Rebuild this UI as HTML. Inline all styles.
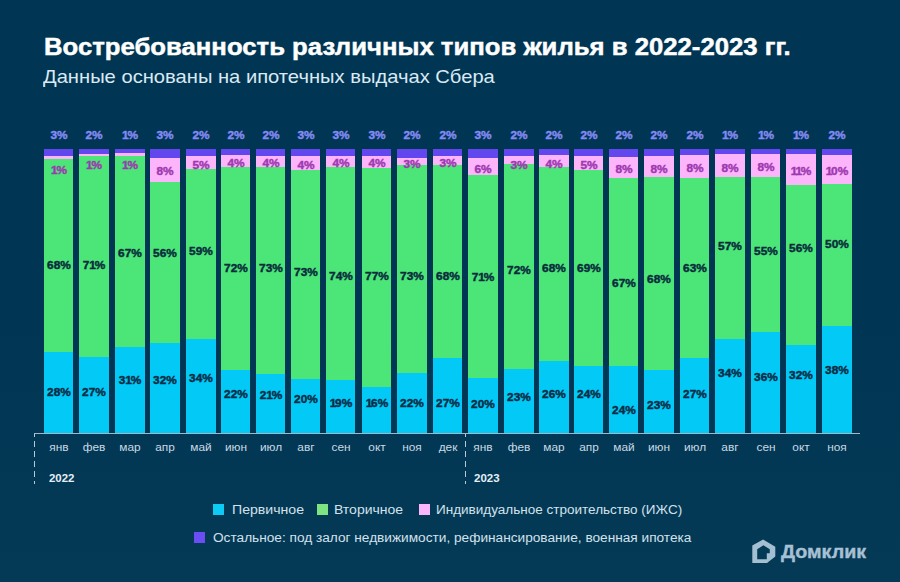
<!DOCTYPE html>
<html><head><meta charset="utf-8"><style>
*{margin:0;padding:0;box-sizing:border-box}
html,body{width:900px;height:582px;overflow:hidden}
body{background:linear-gradient(to bottom,#003653 0px,#003653 300px,#043a56 582px);position:relative;font-family:"Liberation Sans",sans-serif}
.t{position:absolute;white-space:nowrap;transform-origin:0 0}
.b{position:absolute;width:29.6px}
.l{position:absolute;white-space:nowrap;font-weight:bold;font-size:11.3px;line-height:11.3px;transform:translate(-50%,-50%) scaleX(1.05);-webkit-text-stroke:0.42px currentColor}
.lt{color:#8589f3}
.lk{color:#9e39b0}
.lg{color:#0a2b3c}
.lc{color:#082c46}
.m{position:absolute;top:442.2578px;white-space:nowrap;font-size:10.8px;line-height:10.8px;color:#c9d9e4;transform:translate(-50%,0) scaleX(1.1)}
.sq{position:absolute;width:11.1px;height:10.7px}
</style></head><body>
<div class="t" style="left:44.39px;top:36.46px;font-size:23.2px;line-height:23.2px;font-weight:700;color:#ffffff;transform:scaleX(1.1087);-webkit-text-stroke:0.45px #fff">Востребованность различных типов жилья в 2022-2023 гг.</div>
<div class="t" style="left:43.10px;top:68.09px;font-size:18.2px;line-height:18.2px;font-weight:400;color:#dce9f3;transform:scaleX(1.1083);">Данные основаны на ипотечных выдачах Сбера</div>
<div class="t" style="left:48.70px;top:473.01px;font-size:11.8px;line-height:11.8px;font-weight:700;color:#e3eef5;transform:scaleX(0.9692);">2022</div>
<div class="t" style="left:474.40px;top:473.01px;font-size:11.8px;line-height:11.8px;font-weight:700;color:#e3eef5;transform:scaleX(0.9731);">2023</div>
<div class="t" style="left:231.62px;top:503.84px;font-size:12px;line-height:12px;font-weight:400;color:#d3e1eb;transform:scaleX(1.1750);">Первичное</div>
<div class="t" style="left:334.13px;top:503.84px;font-size:12px;line-height:12px;font-weight:400;color:#d3e1eb;transform:scaleX(1.1655);">Вторичное</div>
<div class="t" style="left:436.17px;top:503.84px;font-size:12px;line-height:12px;font-weight:400;color:#d3e1eb;transform:scaleX(1.1263);">Индивидуальное строительство (ИЖС)</div>
<div class="t" style="left:213.30px;top:532.34px;font-size:12px;line-height:12px;font-weight:400;color:#d3e1eb;transform:scaleX(1.1376);">Остальное: под залог недвижимости, рефинансирование, военная ипотека</div>
<div class="t" style="left:781.10px;top:543.60px;font-size:17.6px;line-height:17.6px;font-weight:700;color:#a7c0d3;transform:scaleX(1.1190);-webkit-text-stroke:0.35px #a7c0d3">Домклик</div>
<div class="b" style="left:43.60px;width:29.20px;top:148.50px;height:284.80px;background:linear-gradient(to bottom,#6347ee 0px,#6347ee 7.10px,#fcb4fb 7.10px,#fcb4fb 10.20px,#4be578 10.20px,#4be578 203.50px,#03c9f7 203.50px,#03c9f7 284.80px)"></div>
<div class="l lt" style="left:58.50px;top:136.40px">3%</div>
<div class="l lk" style="left:58.50px;top:170.90px"><span style="letter-spacing:-1.2px">1</span>%</div>
<div class="l lg" style="left:58.50px;top:265.50px">68%</div>
<div class="l lc" style="left:58.50px;top:393.10px">28%</div>
<div class="m" style="left:58.50px">янв</div>
<div class="b" style="left:79.00px;width:30.00px;top:148.50px;height:284.80px;background:linear-gradient(to bottom,#6347ee 0px,#6347ee 5.40px,#fcb4fb 5.40px,#fcb4fb 7.50px,#4be578 7.50px,#4be578 208.50px,#03c9f7 208.50px,#03c9f7 284.80px)"></div>
<div class="l lt" style="left:94.30px;top:136.40px">2%</div>
<div class="l lk" style="left:94.30px;top:166.00px"><span style="letter-spacing:-1.2px">1</span>%</div>
<div class="l lg" style="left:94.30px;top:265.90px">7<span style="letter-spacing:-1.2px">1</span>%</div>
<div class="l lc" style="left:94.30px;top:393.10px">27%</div>
<div class="m" style="left:94.30px">фев</div>
<div class="b" style="left:115.00px;width:30.00px;top:148.50px;height:284.80px;background:linear-gradient(to bottom,#6347ee 0px,#6347ee 4.10px,#fcb4fb 4.10px,#fcb4fb 7.10px,#4be578 7.10px,#4be578 197.70px,#03c9f7 197.70px,#03c9f7 284.80px)"></div>
<div class="l lt" style="left:130.30px;top:136.40px"><span style="letter-spacing:-1.2px">1</span>%</div>
<div class="l lk" style="left:130.30px;top:165.50px"><span style="letter-spacing:-1.2px">1</span>%</div>
<div class="l lg" style="left:130.30px;top:254.40px">67%</div>
<div class="l lc" style="left:130.30px;top:381.40px">3<span style="letter-spacing:-1.2px">1</span>%</div>
<div class="m" style="left:130.30px">мар</div>
<div class="b" style="left:150.00px;width:30.00px;top:148.50px;height:284.80px;background:linear-gradient(to bottom,#6347ee 0px,#6347ee 8.80px,#fcb4fb 8.80px,#fcb4fb 32.70px,#4be578 32.70px,#4be578 193.70px,#03c9f7 193.70px,#03c9f7 284.80px)"></div>
<div class="l lt" style="left:165.30px;top:136.40px">3%</div>
<div class="l lk" style="left:165.30px;top:171.60px">8%</div>
<div class="l lg" style="left:165.30px;top:254.40px">56%</div>
<div class="l lc" style="left:165.30px;top:381.40px">32%</div>
<div class="m" style="left:165.30px">апр</div>
<div class="b" style="left:186.00px;width:29.60px;top:148.50px;height:284.80px;background:linear-gradient(to bottom,#6347ee 0px,#6347ee 7.10px,#fcb4fb 7.10px,#fcb4fb 20.50px,#4be578 20.50px,#4be578 190.00px,#03c9f7 190.00px,#03c9f7 284.80px)"></div>
<div class="l lt" style="left:201.10px;top:136.40px">2%</div>
<div class="l lk" style="left:201.10px;top:165.50px">5%</div>
<div class="l lg" style="left:201.10px;top:252.20px">59%</div>
<div class="l lc" style="left:201.10px;top:378.60px">34%</div>
<div class="m" style="left:201.10px">май</div>
<div class="b" style="left:221.00px;width:29.00px;top:148.50px;height:284.80px;background:linear-gradient(to bottom,#6347ee 0px,#6347ee 6.30px,#fcb4fb 6.30px,#fcb4fb 17.60px,#4be578 17.60px,#4be578 220.90px,#03c9f7 220.90px,#03c9f7 284.80px)"></div>
<div class="l lt" style="left:235.80px;top:136.40px">2%</div>
<div class="l lk" style="left:235.80px;top:163.60px">4%</div>
<div class="l lg" style="left:235.80px;top:268.60px">72%</div>
<div class="l lc" style="left:235.80px;top:395.30px">22%</div>
<div class="m" style="left:235.80px">июн</div>
<div class="b" style="left:256.40px;width:28.60px;top:148.50px;height:284.80px;background:linear-gradient(to bottom,#6347ee 0px,#6347ee 7.50px,#fcb4fb 7.50px,#fcb4fb 17.60px,#4be578 17.60px,#4be578 224.60px,#03c9f7 224.60px,#03c9f7 284.80px)"></div>
<div class="l lt" style="left:271.00px;top:136.40px">2%</div>
<div class="l lk" style="left:271.00px;top:164.30px">4%</div>
<div class="l lg" style="left:271.00px;top:269.30px">73%</div>
<div class="l lc" style="left:271.00px;top:396.20px">2<span style="letter-spacing:-1.2px">1</span>%</div>
<div class="m" style="left:271.00px">июл</div>
<div class="b" style="left:291.00px;width:29.00px;top:148.50px;height:284.80px;background:linear-gradient(to bottom,#6347ee 0px,#6347ee 7.50px,#fcb4fb 7.50px,#fcb4fb 21.20px,#4be578 21.20px,#4be578 229.90px,#03c9f7 229.90px,#03c9f7 284.80px)"></div>
<div class="l lt" style="left:305.80px;top:136.40px">3%</div>
<div class="l lk" style="left:305.80px;top:165.50px">4%</div>
<div class="l lg" style="left:305.80px;top:273.00px">73%</div>
<div class="l lc" style="left:305.80px;top:399.90px">20%</div>
<div class="m" style="left:305.80px">авг</div>
<div class="b" style="left:326.00px;width:29.00px;top:148.50px;height:284.80px;background:linear-gradient(to bottom,#6347ee 0px,#6347ee 7.10px,#fcb4fb 7.10px,#fcb4fb 18.50px,#4be578 18.50px,#4be578 230.80px,#03c9f7 230.80px,#03c9f7 284.80px)"></div>
<div class="l lt" style="left:340.80px;top:136.40px">3%</div>
<div class="l lk" style="left:340.80px;top:163.60px">4%</div>
<div class="l lg" style="left:340.80px;top:277.00px">74%</div>
<div class="l lc" style="left:340.80px;top:404.40px"><span style="letter-spacing:-1.2px">1</span>9%</div>
<div class="m" style="left:340.80px">сен</div>
<div class="b" style="left:362.00px;width:29.00px;top:148.50px;height:284.80px;background:linear-gradient(to bottom,#6347ee 0px,#6347ee 7.50px,#fcb4fb 7.50px,#fcb4fb 19.30px,#4be578 19.30px,#4be578 238.00px,#03c9f7 238.00px,#03c9f7 284.80px)"></div>
<div class="l lt" style="left:376.80px;top:136.40px">3%</div>
<div class="l lk" style="left:376.80px;top:163.60px">4%</div>
<div class="l lg" style="left:376.80px;top:277.00px">77%</div>
<div class="l lc" style="left:376.80px;top:404.40px"><span style="letter-spacing:-1.2px">1</span>6%</div>
<div class="m" style="left:376.80px">окт</div>
<div class="b" style="left:397.00px;width:30.00px;top:148.50px;height:284.80px;background:linear-gradient(to bottom,#6347ee 0px,#6347ee 8.80px,#fcb4fb 8.80px,#fcb4fb 16.40px,#4be578 16.40px,#4be578 224.50px,#03c9f7 224.50px,#03c9f7 284.80px)"></div>
<div class="l lt" style="left:412.30px;top:136.40px">2%</div>
<div class="l lk" style="left:412.30px;top:165.00px">3%</div>
<div class="l lg" style="left:412.30px;top:277.00px">73%</div>
<div class="l lc" style="left:412.30px;top:404.40px">22%</div>
<div class="m" style="left:412.30px">ноя</div>
<div class="b" style="left:433.00px;width:29.40px;top:148.50px;height:284.80px;background:linear-gradient(to bottom,#6347ee 0px,#6347ee 7.10px,#fcb4fb 7.10px,#fcb4fb 16.40px,#4be578 16.40px,#4be578 208.80px,#03c9f7 208.80px,#03c9f7 284.80px)"></div>
<div class="l lt" style="left:448.00px;top:136.40px">2%</div>
<div class="l lk" style="left:448.00px;top:164.30px">3%</div>
<div class="l lg" style="left:448.00px;top:277.00px">68%</div>
<div class="l lc" style="left:448.00px;top:404.40px">27%</div>
<div class="m" style="left:448.00px">дек</div>
<div class="b" style="left:468.00px;width:30.00px;top:148.50px;height:284.80px;background:linear-gradient(to bottom,#6347ee 0px,#6347ee 8.80px,#fcb4fb 8.80px,#fcb4fb 26.10px,#4be578 26.10px,#4be578 228.80px,#03c9f7 228.80px,#03c9f7 284.80px)"></div>
<div class="l lt" style="left:483.30px;top:136.40px">3%</div>
<div class="l lk" style="left:483.30px;top:169.90px">6%</div>
<div class="l lg" style="left:483.30px;top:277.90px">7<span style="letter-spacing:-1.2px">1</span>%</div>
<div class="l lc" style="left:483.30px;top:405.10px">20%</div>
<div class="m" style="left:483.30px">янв</div>
<div class="b" style="left:504.00px;width:29.60px;top:148.50px;height:284.80px;background:linear-gradient(to bottom,#6347ee 0px,#6347ee 7.50px,#fcb4fb 7.50px,#fcb4fb 15.10px,#4be578 15.10px,#4be578 219.50px,#03c9f7 219.50px,#03c9f7 284.80px)"></div>
<div class="l lt" style="left:519.10px;top:136.40px">2%</div>
<div class="l lk" style="left:519.10px;top:165.50px">3%</div>
<div class="l lg" style="left:519.10px;top:270.80px">72%</div>
<div class="l lc" style="left:519.10px;top:397.70px">23%</div>
<div class="m" style="left:519.10px">фев</div>
<div class="b" style="left:539.00px;width:29.60px;top:148.50px;height:284.80px;background:linear-gradient(to bottom,#6347ee 0px,#6347ee 6.30px,#fcb4fb 6.30px,#fcb4fb 18.50px,#4be578 18.50px,#4be578 211.60px,#03c9f7 211.60px,#03c9f7 284.80px)"></div>
<div class="l lt" style="left:554.10px;top:136.40px">2%</div>
<div class="l lk" style="left:554.10px;top:164.80px">4%</div>
<div class="l lg" style="left:554.10px;top:268.60px">68%</div>
<div class="l lc" style="left:554.10px;top:395.30px">26%</div>
<div class="m" style="left:554.10px">мар</div>
<div class="b" style="left:574.00px;width:29.00px;top:148.50px;height:284.80px;background:linear-gradient(to bottom,#6347ee 0px,#6347ee 7.50px,#fcb4fb 7.50px,#fcb4fb 21.20px,#4be578 21.20px,#4be578 216.90px,#03c9f7 216.90px,#03c9f7 284.80px)"></div>
<div class="l lt" style="left:588.80px;top:136.40px">2%</div>
<div class="l lk" style="left:588.80px;top:165.50px">5%</div>
<div class="l lg" style="left:588.80px;top:268.60px">69%</div>
<div class="l lc" style="left:588.80px;top:395.30px">24%</div>
<div class="m" style="left:588.80px">апр</div>
<div class="b" style="left:609.00px;width:29.00px;top:148.50px;height:284.80px;background:linear-gradient(to bottom,#6347ee 0px,#6347ee 7.80px,#fcb4fb 7.80px,#fcb4fb 29.10px,#4be578 29.10px,#4be578 216.90px,#03c9f7 216.90px,#03c9f7 284.80px)"></div>
<div class="l lt" style="left:623.80px;top:136.40px">2%</div>
<div class="l lk" style="left:623.80px;top:170.40px">8%</div>
<div class="l lg" style="left:623.80px;top:284.10px">67%</div>
<div class="l lc" style="left:623.80px;top:411.10px">24%</div>
<div class="m" style="left:623.80px">май</div>
<div class="b" style="left:644.00px;width:29.60px;top:148.50px;height:284.80px;background:linear-gradient(to bottom,#6347ee 0px,#6347ee 7.50px,#fcb4fb 7.50px,#fcb4fb 28.30px,#4be578 28.30px,#4be578 220.90px,#03c9f7 220.90px,#03c9f7 284.80px)"></div>
<div class="l lt" style="left:659.10px;top:136.40px">2%</div>
<div class="l lk" style="left:659.10px;top:170.40px">8%</div>
<div class="l lg" style="left:659.10px;top:279.50px">68%</div>
<div class="l lc" style="left:659.10px;top:406.40px">23%</div>
<div class="m" style="left:659.10px">июн</div>
<div class="b" style="left:679.60px;width:29.40px;top:148.50px;height:284.80px;background:linear-gradient(to bottom,#6347ee 0px,#6347ee 6.50px,#fcb4fb 6.50px,#fcb4fb 28.70px,#4be578 28.70px,#4be578 209.00px,#03c9f7 209.00px,#03c9f7 284.80px)"></div>
<div class="l lt" style="left:694.60px;top:136.40px">2%</div>
<div class="l lk" style="left:694.60px;top:168.60px">8%</div>
<div class="l lg" style="left:694.60px;top:269.20px">63%</div>
<div class="l lc" style="left:694.60px;top:395.40px">27%</div>
<div class="m" style="left:694.60px">июл</div>
<div class="b" style="left:715.00px;width:30.00px;top:148.50px;height:284.80px;background:linear-gradient(to bottom,#6347ee 0px,#6347ee 4.90px,#fcb4fb 4.90px,#fcb4fb 27.60px,#4be578 27.60px,#4be578 190.40px,#03c9f7 190.40px,#03c9f7 284.80px)"></div>
<div class="l lt" style="left:730.30px;top:136.40px"><span style="letter-spacing:-1.2px">1</span>%</div>
<div class="l lk" style="left:730.30px;top:168.60px">8%</div>
<div class="l lg" style="left:730.30px;top:247.00px">57%</div>
<div class="l lc" style="left:730.30px;top:373.70px">34%</div>
<div class="m" style="left:730.30px">авг</div>
<div class="b" style="left:751.00px;width:29.40px;top:148.50px;height:284.80px;background:linear-gradient(to bottom,#6347ee 0px,#6347ee 4.70px,#fcb4fb 4.70px,#fcb4fb 28.10px,#4be578 28.10px,#4be578 183.30px,#03c9f7 183.30px,#03c9f7 284.80px)"></div>
<div class="l lt" style="left:766.00px;top:136.40px"><span style="letter-spacing:-1.2px">1</span>%</div>
<div class="l lk" style="left:766.00px;top:167.50px">8%</div>
<div class="l lg" style="left:766.00px;top:251.60px">55%</div>
<div class="l lc" style="left:766.00px;top:378.40px">36%</div>
<div class="m" style="left:766.00px">сен</div>
<div class="b" style="left:786.00px;width:29.60px;top:148.50px;height:284.80px;background:linear-gradient(to bottom,#6347ee 0px,#6347ee 4.70px,#fcb4fb 4.70px,#fcb4fb 36.50px,#4be578 36.50px,#4be578 195.70px,#03c9f7 195.70px,#03c9f7 284.80px)"></div>
<div class="l lt" style="left:801.10px;top:136.40px"><span style="letter-spacing:-1.2px">1</span>%</div>
<div class="l lk" style="left:801.10px;top:171.50px"><span style="letter-spacing:-1.2px">1</span><span style="letter-spacing:-1.2px">1</span>%</div>
<div class="l lg" style="left:801.10px;top:249.10px">56%</div>
<div class="l lc" style="left:801.10px;top:375.90px">32%</div>
<div class="m" style="left:801.10px">окт</div>
<div class="b" style="left:822.00px;width:29.60px;top:148.50px;height:284.80px;background:linear-gradient(to bottom,#6347ee 0px,#6347ee 6.10px,#fcb4fb 6.10px,#fcb4fb 35.40px,#4be578 35.40px,#4be578 177.40px,#03c9f7 177.40px,#03c9f7 284.80px)"></div>
<div class="l lt" style="left:837.10px;top:136.40px">2%</div>
<div class="l lk" style="left:837.10px;top:171.50px"><span style="letter-spacing:-1.2px">1</span>0%</div>
<div class="l lg" style="left:837.10px;top:244.50px">50%</div>
<div class="l lc" style="left:837.10px;top:371.20px">38%</div>
<div class="m" style="left:837.10px">ноя</div>
<div style="position:absolute;left:33.8px;top:432.8px;width:826px;height:1.3px;background:rgba(225,242,250,0.7)"></div>
<div style="position:absolute;left:33.8px;top:433.5px;width:1.3px;height:50.2px;background:repeating-linear-gradient(to bottom,#b4cad8 0px,#b4cad8 2.6px,transparent 2.6px,transparent 7.07px,#b4cad8 7.07px,#b4cad8 10.07px)"></div>
<div style="position:absolute;left:464.8px;top:433.5px;width:1.3px;height:50.2px;background:repeating-linear-gradient(to bottom,#b4cad8 0px,#b4cad8 2.6px,transparent 2.6px,transparent 7.07px,#b4cad8 7.07px,#b4cad8 10.07px)"></div>
<div class="sq" style="left:213px;top:504px;background:#0ccbf5"></div>
<div class="sq" style="left:317px;top:504px;background:#7ee482"></div>
<div class="sq" style="left:419px;top:504px;background:#fbb5fa"></div>
<div class="sq" style="left:194px;top:532px;background:#6a4ef3"></div>
<svg style="position:absolute;left:0;top:0" width="900" height="582" viewBox="0 0 900 582">
<path fill="#a5bfd2" fill-rule="evenodd" d="M752.3 545.5 L763.1 539.4 L775.3 546.8 L775.3 556.6 L767 563.1 L752.3 563.1 Z M757.2 549.3 L763.4 545.3 L769.8 549.3 L769.8 553.2 L766.8 553.2 L766.8 559.2 L757.2 559.2 Z"/>
</svg>
</body></html>
